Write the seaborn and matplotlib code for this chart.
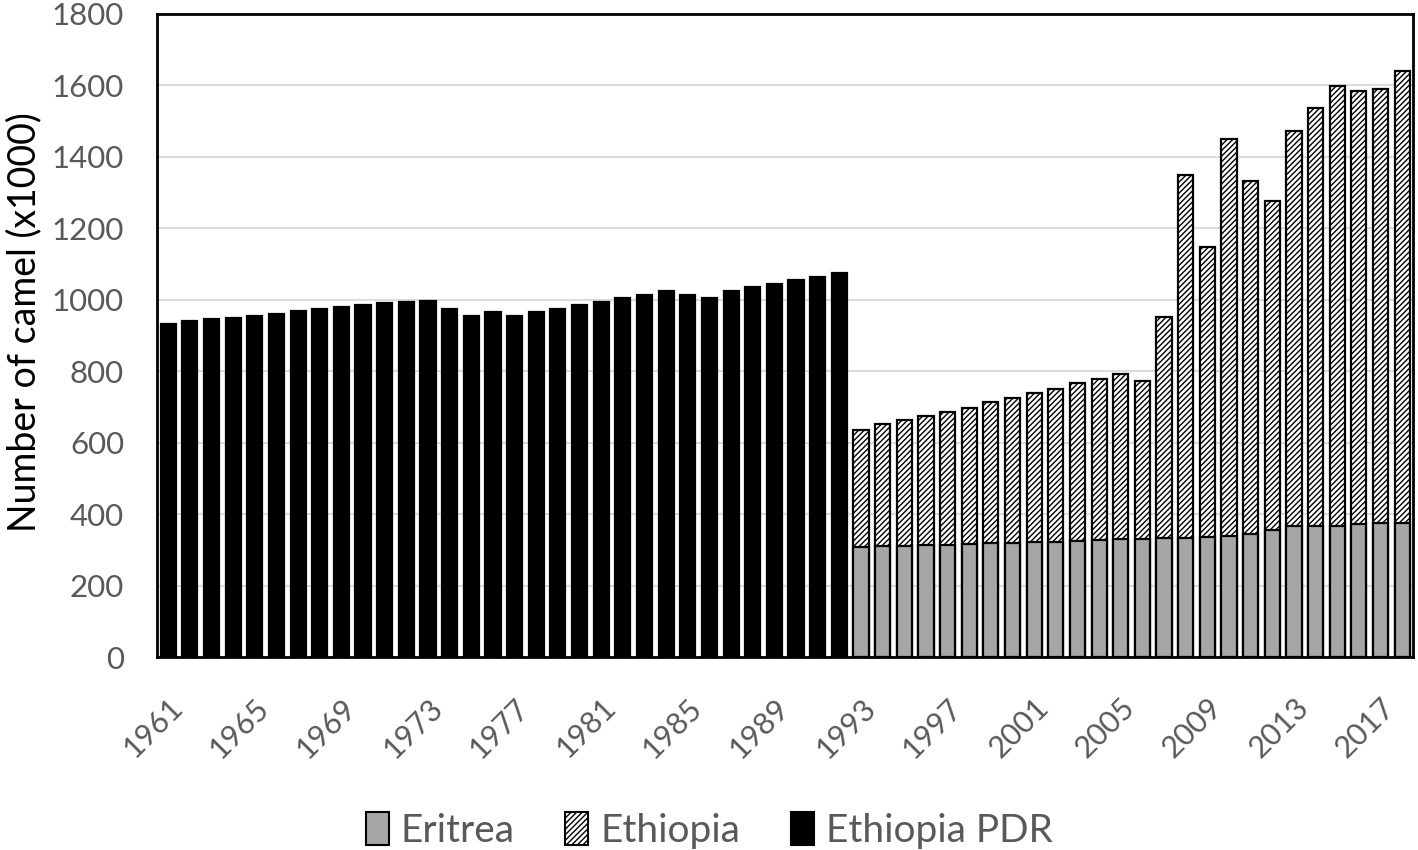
import numpy as np
import pandas as pd
import matplotlib
matplotlib.use("Agg")
import matplotlib.pyplot as plt
import seaborn as sns
from matplotlib.patches import Patch

# Данные (тыс. голов)
years = list(range(1961, 2019))

pdr_years = list(range(1961, 1993))
pdr_values = [933, 939, 945, 948, 955, 961, 967, 973, 978, 984, 990, 993,
              996, 973, 953, 964, 953, 964, 974, 984, 993, 1004, 1013, 1024,
              1013, 1004, 1024, 1034, 1044, 1054, 1064, 1074]

new_years = list(range(1993, 2019))
eritrea_values = [308, 310, 311, 313, 314, 316, 318, 320, 321, 323, 325, 327,
                  329, 330, 332, 334, 336, 340, 345, 355, 366, 366, 367, 372,
                  376, 374]
ethiopia_values = [327, 342, 352, 362, 372, 381, 396, 406, 417, 426, 441, 450,
                   463, 443, 620, 1014, 812, 1109, 986, 921, 1106, 1170, 1231,
                   1212, 1214, 1265]

tick_years = list(range(1961, 2019, 4))

df_pdr = pd.DataFrame({"year": pdr_years, "value": pdr_values})
df_new = pd.DataFrame({"year": new_years,
                       "eritrea": eritrea_values,
                       "ethiopia": ethiopia_values})
df_new["total"] = df_new["eritrea"] + df_new["ethiopia"]

sns.set_style("white")
plt.rcParams["font.family"] = ["Lato", "DejaVu Sans"]
text_color = "#595959"

fig = plt.figure(figsize=(14.18, 8.5), dpi=100)
ax = fig.add_axes([0.111, 0.227, 0.8855, 0.757])

bar_kw = dict(width=0.7, edgecolor="black", linewidth=1.6, order=years,
              native_scale=False, legend=False)

# Эфиопия (штриховка) — полная высота, поверх неё рисуем Эритрею
sns.barplot(data=df_new, x="year", y="total", color="white", hatch="//////",
            ax=ax, **bar_kw)
sns.barplot(data=df_new, x="year", y="eritrea", color="#a6a6a6", ax=ax,
            **bar_kw)
sns.barplot(data=df_pdr, x="year", y="value", color="black", ax=ax, **bar_kw)

ax.set_ylim(0, 1800)
ax.set_xlim(-0.5, len(years) - 0.5)
ax.set_yticks(range(0, 1801, 200))
ax.yaxis.grid(True, color="#dcdcdc", linewidth=1.5)
ax.set_axisbelow(True)

ax.set_xticks([years.index(y) for y in tick_years])
ax.set_xticklabels([str(y) for y in tick_years], rotation=45, ha="right",
                   rotation_mode="anchor")
ax.tick_params(axis="x", length=0, pad=26, labelsize=22, labelcolor=text_color)
ax.tick_params(axis="y", length=0, pad=24, labelsize=22.5, labelcolor=text_color)

for s in ax.spines.values():
    s.set_visible(True)
    s.set_color("black")
    s.set_linewidth(2)

ax.set_xlabel("")
ax.set_ylabel("Number of camel (x1000)", fontsize=27, color="black",
              labelpad=12)
ax.yaxis.set_label_coords(-0.092, 0.52)

handles = [Patch(facecolor="#a6a6a6", edgecolor="black", linewidth=1.5),
           Patch(facecolor="white", edgecolor="black", hatch="//////",
                 linewidth=1.5),
           Patch(facecolor="black", edgecolor="black", linewidth=1.5)]
fig.legend(handles, ["Eritrea", "Ethiopia", "Ethiopia PDR"],
           loc="lower center", bbox_to_anchor=(0.5, -0.04), ncol=3,
           frameon=False, fontsize=28, labelcolor=text_color,
           handlelength=0.6, handleheight=0.9, handletextpad=0.3,
           columnspacing=1.3)

fig.savefig("out.png", dpi=100)
